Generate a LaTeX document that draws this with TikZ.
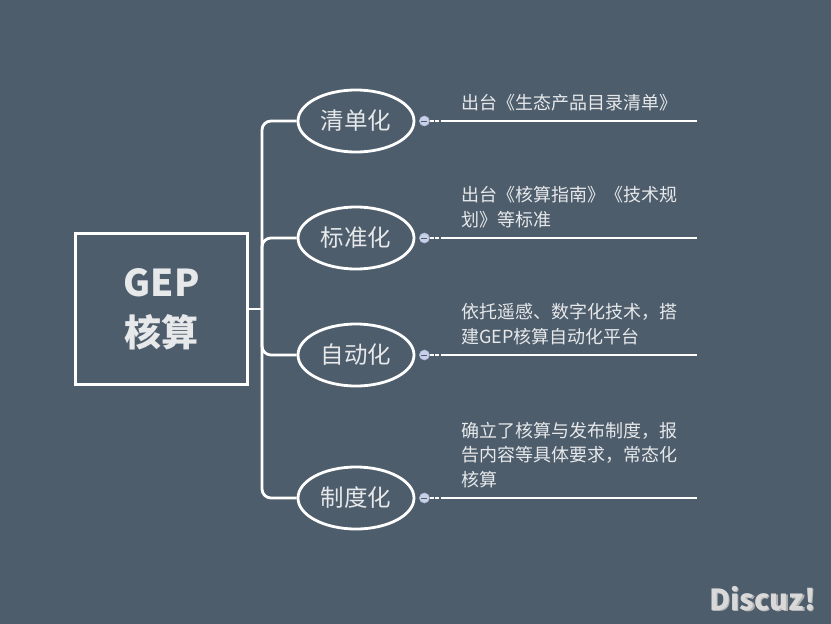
\documentclass[tikz,border=0pt]{standalone}
\usepackage{fontspec}
\setmainfont{Noto Sans CJK SC}
\usetikzlibrary{calc,shapes.geometric}
\definecolor{slate}{HTML}{4E5D6C}
\definecolor{knobblue}{HTML}{C8D0EA}
\definecolor{paper}{HTML}{E6E8EA}
\def\knob(#1){\node[circle, fill=knobblue, draw=knobblue!80!slate, line width=0.6pt, inner sep=0pt, minimum size=10pt] (#1k) at ($(#1.east)+(9,0)$) {};
	\draw[slate, line width=1pt] ($(#1k)+(-3,0)$) -- ($(#1k)+(3,0)$);}
\tikzset{
	topic/.style={ellipse, draw=white, line width=2.8pt, minimum width=116pt, minimum height=62pt, inner sep=0pt, text=paper, font=\fontsize{23.5}{26}\selectfont},
	note/.style={anchor=south west, align=left, inner sep=0pt, text=paper, font=\fontsize{18}{24.5}\selectfont},
	link/.style={draw=white, line width=2.8pt, rounded corners=9pt},
	leaf/.style={draw=white, line width=2.8pt},
}

\begin{document}
\begin{tikzpicture}[x=1pt,y=-1pt]
			%%%%% START %%%%%
			
			\fill[slate] (0, 0) rectangle (831, 624);
			\useasboundingbox (0, 0) rectangle (831, 624);
			
			\node[draw=white, line width=3pt, minimum width=172pt, minimum height=151pt, align=center, text=paper, font=\bfseries\fontsize{37}{50}\selectfont] (gep) at (161.5, 309) {GEP\\核算};
			\coordinate (trunk) at (262, 309);
			
			\node[topic] (qd) at (356, 121) {清单化};
			\node[topic] (bz) at (356, 238) {标准化};
			\node[topic] (zd) at (356, 355) {自动化};
			\node[topic] (zz) at (356, 498) {制度化};
			
			\draw[leaf] (gep.east) -- (trunk);
			\draw[link] (trunk) |- (qd.west);
			\draw[link] (trunk) |- (bz.west);
			\draw[link] (trunk) |- (zd.west);
			\draw[link] (trunk) |- (zz.west);
			
			\knob(qd)
			\knob(bz)
			\knob(zd)
			\knob(zz)
			
			\coordinate (qde) at (697, 121);
			\coordinate (bze) at (697, 238);
			\coordinate (zde) at (697, 355);
			\coordinate (zze) at (697, 498);
			
			\draw[leaf, line width=2.2pt, dash pattern=on 4pt off 1.5pt] (qdk.east) -- ++(14, 0);
			\draw[leaf] ($(qdk.east)+(14, 0)$) -- (qde);
			\draw[leaf, line width=2.2pt, dash pattern=on 4pt off 1.5pt] (bzk.east) -- ++(14, 0);
			\draw[leaf] ($(bzk.east)+(14, 0)$) -- (bze);
			\draw[leaf, line width=2.2pt, dash pattern=on 4pt off 1.5pt] (zdk.east) -- ++(14, 0);
			\draw[leaf] ($(zdk.east)+(14, 0)$) -- (zde);
			\draw[leaf, line width=2.2pt, dash pattern=on 4pt off 1.5pt] (zzk.east) -- ++(14, 0);
			\draw[leaf] ($(zzk.east)+(14, 0)$) -- (zze);
			
			\node[note] (qdn) at (461, 111) {出台《生态产品目录清单》};
			\node[note] (bzn) at (461, 228) {出台《核算指南》《技术规\\划》等标准};
			\node[note] (zdn) at (461, 345) {依托遥感、数字化技术，搭\\建GEP核算自动化平台};
			\node[note] (zzn) at (461, 488) {确立了核算与发布制度，报\\告内容等具体要求，常态化\\核算};
			
			\node[text=black!30, font=\bfseries\fontsize{29}{32}\selectfont] (dz) at (764, 600) {Discuz!};
			\node[text=white!85!black, font=\bfseries\fontsize{29}{32}\selectfont] (dzt) at (762.5, 599) {Discuz!};
			
			%%%%% END %%%%%
\end{tikzpicture}
\end{document}
